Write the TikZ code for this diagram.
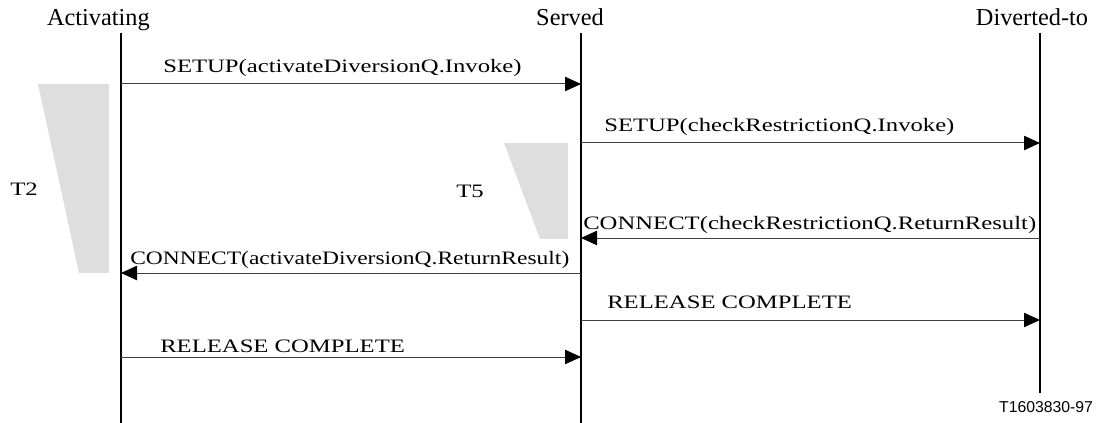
\documentclass[tikz,border=0pt]{standalone}
\usepackage{fontspec}
\setmainfont[FakeStretch=1.3]{Liberation Serif}
\newfontfamily\headfont{Liberation Serif}
\newfontfamily\tagfont{Liberation Sans}
\usetikzlibrary{arrows.meta}
\tikzset{
  lifeline/.style={line width=1.4pt},
  msgline/.style={line width=0.7pt,draw=black!75,-{Triangle[length=0.4cm,width=0.36cm,color=black]}},
  txt/.style={inner sep=0pt,font=\fontsize{13.5}{16}\selectfont},
  head/.style={inner sep=0pt,anchor=base,font=\headfont\fontsize{17.3}{20}\selectfont},
  timer/.style={fill=black!13,draw=none}
}
\newcommand{\party}[5]{\node[head] (#1) at (#4,9.925) {#5};
  \coordinate (#1top) at (#2,9.75); \coordinate (#1bot) at (#2,#3);
  \draw[lifeline] (#1top) -- (#1bot);}
\newcommand{\msg}[7]{\coordinate (#1a) at (#2,#4); \coordinate (#1b) at (#3,#4);
  \draw[msgline] (#1a) -- (#1b);
  \node[txt,anchor=base west] (#1l) at (#5,#6) {#7};}

\begin{document}
\begin{tikzpicture}
  \useasboundingbox (0,0) rectangle (27.45,10.575);
  % timers
  \fill[timer] (0.95,8.475) -- (2.725,8.475) -- (2.725,3.75) -- (1.975,3.75) -- cycle;
  \fill[timer] (12.6,7.0) -- (14.2,7.0) -- (14.2,4.6) -- (13.5,4.6) -- cycle;
  \node[txt] (t2) at (0.6,5.85) {T2};
  \node[txt] (t5) at (11.75,5.78) {T5};
  % parties
  \party{act}{3.025}{0}{2.46}{Activating}
  \party{srv}{14.525}{0}{14.25}{Served}
  \party{div}{26.0}{0.75}{25.8}{Diverted-to}
  % messages
  \msg{m1}{3.025}{14.525}{8.475}{4.075}{8.75}{SETUP(activateDiversionQ.Invoke)}
  \msg{m2}{14.525}{26.0}{7.0}{15.1}{7.275}{SETUP(checkRestrictionQ.Invoke)}
  \msg{m3}{26.0}{14.525}{4.625}{14.575}{4.825}{CONNECT(checkRestrictionQ.ReturnResult)}
  \msg{m4}{14.525}{3.025}{3.75}{3.25}{3.95}{\scalebox{0.952}[1]{CONNECT(activateDiversionQ.ReturnResult)}}
  \msg{m5}{14.525}{26.0}{2.575}{15.175}{2.85}{RELEASE COMPLETE}
  \msg{m6}{3.025}{14.525}{1.65}{4.0}{1.75}{RELEASE COMPLETE}
  \node[inner sep=0pt,anchor=base,font=\tagfont\fontsize{11.2}{13}\selectfont] (tag) at (26.15,0.25) {T1603830-97};
\end{tikzpicture}
\end{document}
